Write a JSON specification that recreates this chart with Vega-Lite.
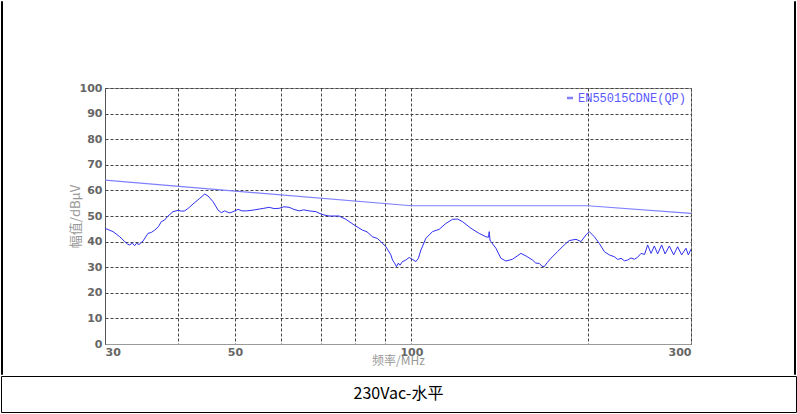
{
  "$schema": "https://vega.github.io/schema/vega-lite/v6.json",
  "padding": 0,
  "autosize": {"type": "pad"},
  "background": "white",
  "config": {
    "view": {"stroke": null},
    "axis": {"labelFont": "DejaVu Sans", "titleFont": "Noto Sans CJK SC"}
  },
  "datasets": {
    "trace": [
      {"f": 30.0, "v": 45.2}, {"f": 30.96, "v": 43.9}, {"f": 31.79, "v": 41.9}, {"f": 32.42, "v": 40.0},
      {"f": 32.8, "v": 39.0}, {"f": 33.06, "v": 38.7}, {"f": 33.4, "v": 39.4}, {"f": 33.7, "v": 38.4},
      {"f": 33.93, "v": 39.3}, {"f": 34.3, "v": 38.9}, {"f": 34.83, "v": 40.2}, {"f": 35.52, "v": 43.2},
      {"f": 36.0, "v": 43.6}, {"f": 36.47, "v": 44.5}, {"f": 37.0, "v": 45.8}, {"f": 37.43, "v": 47.8},
      {"f": 37.9, "v": 48.4}, {"f": 38.43, "v": 50.0}, {"f": 39.19, "v": 51.7}, {"f": 39.97, "v": 52.2},
      {"f": 40.5, "v": 51.9}, {"f": 41.04, "v": 52.0}, {"f": 41.7, "v": 53.2}, {"f": 42.4, "v": 54.7},
      {"f": 43.53, "v": 56.9}, {"f": 44.4, "v": 58.6}, {"f": 44.98, "v": 57.8}, {"f": 45.87, "v": 55.6},
      {"f": 46.78, "v": 52.3}, {"f": 47.39, "v": 51.3}, {"f": 48.0, "v": 52.0}, {"f": 48.33, "v": 51.7},
      {"f": 49.0, "v": 51.2}, {"f": 49.62, "v": 51.7}, {"f": 50.61, "v": 52.6}, {"f": 51.4, "v": 52.0},
      {"f": 52.29, "v": 52.0}, {"f": 53.68, "v": 52.3}, {"f": 54.96, "v": 52.7}, {"f": 56.0, "v": 53.0},
      {"f": 57.17, "v": 53.4}, {"f": 58.3, "v": 52.9}, {"f": 59.46, "v": 53.0}, {"f": 60.6, "v": 53.6},
      {"f": 61.84, "v": 53.4}, {"f": 63.0, "v": 52.6}, {"f": 64.33, "v": 52.0}, {"f": 65.5, "v": 52.4},
      {"f": 66.9, "v": 52.0}, {"f": 68.69, "v": 51.7}, {"f": 70.06, "v": 50.8}, {"f": 71.2, "v": 50.3},
      {"f": 72.38, "v": 50.0}, {"f": 75.28, "v": 50.0}, {"f": 77.29, "v": 48.7}, {"f": 79.85, "v": 46.5},
      {"f": 82.5, "v": 44.5}, {"f": 84.0, "v": 43.8}, {"f": 85.82, "v": 41.9}, {"f": 87.5, "v": 41.2},
      {"f": 88.7, "v": 40.0}, {"f": 90.46, "v": 38.0}, {"f": 92.26, "v": 34.8}, {"f": 92.84, "v": 32.8},
      {"f": 93.5, "v": 31.8}, {"f": 94.31, "v": 30.2}, {"f": 95.0, "v": 31.6}, {"f": 95.6, "v": 30.8},
      {"f": 96.56, "v": 32.2}, {"f": 97.5, "v": 32.6}, {"f": 99.13, "v": 33.8}, {"f": 100.5, "v": 33.0},
      {"f": 101.78, "v": 32.2}, {"f": 102.8, "v": 33.5}, {"f": 103.8, "v": 36.7}, {"f": 105.86, "v": 41.3},
      {"f": 108.64, "v": 43.9}, {"f": 111.54, "v": 44.8}, {"f": 114.52, "v": 47.1}, {"f": 117.53, "v": 48.7},
      {"f": 119.86, "v": 48.8}, {"f": 122.24, "v": 47.8}, {"f": 126.35, "v": 45.2}, {"f": 130.54, "v": 43.2},
      {"f": 134.0, "v": 41.9}, {"f": 135.4, "v": 41.7}, {"f": 135.75, "v": 43.9}, {"f": 136.2, "v": 40.6},
      {"f": 136.66, "v": 40.0}, {"f": 139.38, "v": 37.4}, {"f": 142.15, "v": 33.5}, {"f": 144.97, "v": 32.4},
      {"f": 148.78, "v": 33.1}, {"f": 153.78, "v": 35.4}, {"f": 156.83, "v": 34.4}, {"f": 160.96, "v": 32.8},
      {"f": 163.0, "v": 31.6}, {"f": 165.25, "v": 31.5}, {"f": 167.0, "v": 30.4}, {"f": 168.53, "v": 30.2},
      {"f": 170.5, "v": 31.8}, {"f": 173.03, "v": 33.5}, {"f": 177.58, "v": 36.1}, {"f": 182.32, "v": 38.7},
      {"f": 185.94, "v": 40.4}, {"f": 190.91, "v": 40.9}, {"f": 194.7, "v": 40.0}, {"f": 198.57, "v": 42.6},
      {"f": 201.16, "v": 43.9}, {"f": 205.16, "v": 41.9}, {"f": 209.23, "v": 39.3}, {"f": 213.39, "v": 36.1},
      {"f": 217.62, "v": 34.8}, {"f": 221.95, "v": 34.1}, {"f": 225.0, "v": 33.0}, {"f": 227.87, "v": 33.5},
      {"f": 231.0, "v": 32.5}, {"f": 233.86, "v": 32.8}, {"f": 237.0, "v": 33.6}, {"f": 240.11, "v": 33.1},
      {"f": 243.0, "v": 33.8}, {"f": 246.52, "v": 35.4}, {"f": 250.0, "v": 35.0}, {"f": 253.0, "v": 38.7},
      {"f": 256.4, "v": 35.4}, {"f": 259.75, "v": 38.3}, {"f": 263.14, "v": 35.2}, {"f": 267.32, "v": 38.7},
      {"f": 270.92, "v": 35.2}, {"f": 275.53, "v": 38.3}, {"f": 280.23, "v": 34.8}, {"f": 284.67, "v": 38.0},
      {"f": 289.19, "v": 34.8}, {"f": 294.16, "v": 37.4}, {"f": 296.83, "v": 34.8}, {"f": 300.0, "v": 37.0}
    ],
    "limit": [
      {"f": 30, "v": 64, "series": "EN55015CDNE(QP)"},
      {"f": 100, "v": 54, "series": "EN55015CDNE(QP)"},
      {"f": 200, "v": 54, "series": "EN55015CDNE(QP)"},
      {"f": 300, "v": 51, "series": "EN55015CDNE(QP)"}
    ],
    "caption": [{"t": "230Vac-水平"}]
  },
  "spacing": 0,
  "resolve": {"scale": {"color": "independent"}, "legend": {"color": "independent"}},
  "vconcat": [
    {
      "spacing": 65,
      "resolve": {"scale": {"color": "independent"}, "legend": {"color": "independent"}},
      "hconcat": [
        {
          "width": 1, "height": 373,
          "view": {"stroke": "#000"},
          "data": {"values": []},
          "mark": "point",
          "encoding": {}
        },
        {
          "spacing": 0,
          "resolve": {"scale": {"color": "independent"}, "legend": {"color": "independent"}},
          "vconcat": [
            {
              "width": 623, "height": 80,
              "data": {"values": []},
              "mark": "point",
              "encoding": {}
            },
            {
              "width": 586, "height": 256,
              "view": {"stroke": "#9a9a9a"},
              "encoding": {
                "x": {
                  "field": "f", "type": "quantitative", "title": "频率/MHz",
                  "scale": {"type": "log", "domain": [30, 300], "nice": false},
                  "axis": {
                    "values": [30, 40, 50, 60, 70, 80, 90, 100, 200, 300],
                    "format": "d",
                    "labelExpr": "indexof([30,50,100,300], datum.value) >= 0 ? datum.label : ''",
                    "labelOverlap": false, "labelFlush": true,
                    "grid": true, "gridDash": [3, 2], "gridColor": "#444", "gridOpacity": 1,
                    "ticks": false, "domainColor": "#9a9a9a",
                    "labelPadding": 2, "labelFontSize": 11, "labelFontWeight": "bold", "labelColor": "#666",
                    "titleFontSize": 12, "titleFontWeight": "normal", "titleColor": "#999", "titlePadding": -2
                  }
                },
                "y": {
                  "field": "v", "type": "quantitative", "title": "幅值/dBμV",
                  "scale": {"domain": [0, 100], "nice": false},
                  "axis": {
                    "values": [0, 10, 20, 30, 40, 50, 60, 70, 80, 90, 100],
                    "grid": true, "gridDash": [3, 2], "gridColor": "#444", "gridOpacity": 1,
                    "ticks": false, "domainColor": "#555",
                    "labelPadding": 3, "labelFontSize": 11, "labelFontWeight": "bold", "labelColor": "#666",
                    "titleFontSize": 13, "titleFontWeight": "normal", "titleColor": "#999", "titlePadding": -3
                  }
                }
              },
              "layer": [
                {
                  "data": {"name": "trace"},
                  "mark": {"type": "line", "color": "#3030f0", "strokeWidth": 1, "clip": true}
                },
                {
                  "data": {"name": "limit"},
                  "mark": {"type": "line", "strokeWidth": 1.2, "clip": true},
                  "encoding": {
                    "color": {
                      "field": "series", "type": "nominal",
                      "scale": {"range": ["#7f7fff"]},
                      "legend": {
                        "title": null, "orient": "top-right", "offset": 4, "padding": 0,
                        "labelFont": "Liberation Mono", "labelFontSize": 12, "labelColor": "#5a5aff",
                        "symbolType": "stroke", "symbolStrokeWidth": 2.5, "symbolSize": 36,
                        "symbolStrokeColor": "#2020ff", "labelOffset": 2
                      }
                    }
                  }
                }
              ]
            }
          ]
        },
        {
          "width": 1, "height": 373,
          "view": {"stroke": "#000"},
          "data": {"values": []},
          "mark": "point",
          "encoding": {}
        }
      ]
    },
    {
      "width": 795, "height": 36,
      "view": {"stroke": "#000"},
      "data": {"name": "caption"},
      "mark": {"type": "text", "font": "Noto Sans CJK SC", "fontSize": 16, "color": "#000"},
      "encoding": {"text": {"field": "t", "type": "nominal"}}
    }
  ]
}
